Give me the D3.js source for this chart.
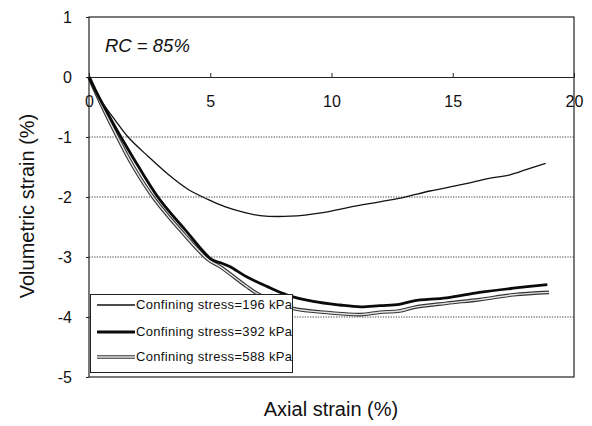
<!DOCTYPE html>
<html>
<head>
<meta charset="utf-8">
<script src="https://cdn.jsdelivr.net/npm/d3@7"></script>
<style>
  html, body { margin: 0; padding: 0; background: #fff; }
  svg { display: block; font-family: "Liberation Sans", Arial, sans-serif; }
</style>
</head>
<body>
<svg id="chart" width="592" height="426"></svg>
<script>
// Volumetric strain vs axial strain, RC = 85%, three confining stresses
const axial196 = [0, 0.37, 1.06, 1.61, 2.43, 3.26, 4.08, 4.9, 5.6, 6.43, 7.05, 8.3, 9.65, 10.76, 12.0, 12.95, 14.06, 15.4, 16.5, 17.36, 18.05, 18.83];
const vol196   = [0, -0.32, -0.71, -1.0, -1.32, -1.62, -1.87, -2.04, -2.16, -2.26, -2.31, -2.32, -2.26, -2.17, -2.08, -2.01, -1.9, -1.79, -1.69, -1.63, -1.54, -1.44];

const axial392 = [0, 0.1, 1.06, 1.33, 2.02, 2.91, 3.95, 5.05, 5.45, 5.8, 6.5, 7.33, 8.15, 9.25, 10.35, 11.2, 12.0, 12.8, 13.4, 14.75, 16.1, 17.5, 18.9];
const vol392   = [0, -0.09, -0.82, -1.01, -1.48, -2.04, -2.54, -3.04, -3.1, -3.16, -3.33, -3.49, -3.63, -3.74, -3.8, -3.83, -3.81, -3.79, -3.73, -3.68, -3.59, -3.52, -3.46];

const axial588 = [0, 0.5, 1.2, 1.81, 2.71, 3.74, 4.9, 5.4, 6.5, 6.9, 7.6, 8.43, 9.94, 11.2, 12.0, 12.8, 13.4, 14.75, 16.1, 17.5, 18.97];
const vol588   = [0, -0.45, -1.02, -1.48, -2.04, -2.54, -3.04, -3.16, -3.49, -3.6, -3.74, -3.86, -3.93, -3.96, -3.92, -3.9, -3.84, -3.77, -3.71, -3.63, -3.59];

const xTicks = [0, 5, 10, 15, 20];
const yTicks = [-5, -4, -3, -2, -1, 0, 1];
const gridTicks = [-4, -3, -2, -1];
const seriesNames = ["Confining stress=196 kPa", "Confining stress=392 kPa", "Confining stress=588 kPa"];

const svg = d3.select("#chart");
const x = d3.scaleLinear().domain([0, 20]).range([89, 574]);
const y = d3.scaleLinear().domain([-5, 1]).range([377, 17]);
const fmt = d => String(d);

// dotted horizontal gridlines
svg.append("g").selectAll("line").data(gridTicks).join("line")
  .attr("x1", x(0)).attr("x2", x(20))
  .attr("y1", d => y(d)).attr("y2", d => y(d))
  .attr("stroke", "#444").attr("stroke-width", 1)
  .attr("stroke-dasharray", "1.3,1.3");

// plot frame
svg.append("rect")
  .attr("x", x(0)).attr("y", y(1))
  .attr("width", x(20) - x(0)).attr("height", y(-5) - y(1))
  .attr("fill", "none").attr("stroke", "#222").attr("stroke-width", 1.2);

// y axis
const yAxis = svg.append("g").attr("transform", `translate(${x(0)},0)`)
  .call(d3.axisLeft(y).tickValues(yTicks).tickFormat(fmt).tickSize(3).tickSizeOuter(0).tickPadding(14));
yAxis.select(".domain").remove();
yAxis.selectAll("line").attr("stroke", "#222");
yAxis.selectAll("text").attr("font-size", 16).attr("fill", "#111")
  .attr("font-family", "'Liberation Sans', Arial, sans-serif");

// x axis along zero line, ticks pointing up, labels below
const xAxis = svg.append("g").attr("transform", `translate(0,${y(0)})`)
  .call(d3.axisBottom(x).tickValues(xTicks).tickFormat(fmt).tickSize(-4).tickSizeOuter(0).tickPadding(19));
xAxis.select(".domain").attr("stroke", "#222").attr("stroke-width", 1.2);
xAxis.selectAll("line").attr("stroke", "#222");
xAxis.selectAll("text").attr("font-size", 16).attr("fill", "#111")
  .attr("font-family", "'Liberation Sans', Arial, sans-serif");

// curves
const line = d3.line().x(d => x(d[0])).y(d => y(d[1])).curve(d3.curveCatmullRom.alpha(0.5));
const pts = (a, v) => a.map((d, i) => [d, v[i]]);

svg.append("path").datum(pts(axial196, vol196)).attr("d", line)
  .attr("fill", "none").attr("stroke", "#111").attr("stroke-width", 1.3);

svg.append("path").datum(pts(axial588, vol588)).attr("d", line)
  .attr("fill", "none").attr("stroke", "#333").attr("stroke-width", 3.6);
svg.append("path").datum(pts(axial588, vol588)).attr("d", line)
  .attr("fill", "none").attr("stroke", "#e4e4e4").attr("stroke-width", 1.4);

svg.append("path").datum(pts(axial392, vol392)).attr("d", line)
  .attr("fill", "none").attr("stroke", "#0a0a0a").attr("stroke-width", 2.8);

// annotation
svg.append("text").attr("x", 105).attr("y", 52)
  .attr("font-size", 18.5).attr("font-style", "italic").attr("fill", "#111")
  .text("RC = 85%");

// legend
const lg = svg.append("g");
lg.append("rect").attr("x", 90.5).attr("y", 294.5).attr("width", 202).attr("height", 78)
  .attr("fill", "#fff").attr("stroke", "#222").attr("stroke-width", 1);
const rows = [309, 336, 361];
const styles = [
  [{ c: "#111", w: 1.3 }],
  [{ c: "#0a0a0a", w: 2.8 }],
  [{ c: "#333", w: 3.6 }, { c: "#e4e4e4", w: 1.4 }]
];
seriesNames.forEach((name, i) => {
  const cy = rows[i] - 4;
  styles[i].forEach(s => {
    lg.append("line").attr("x1", 97).attr("x2", 135).attr("y1", cy).attr("y2", cy)
      .attr("stroke", s.c).attr("stroke-width", s.w);
  });
  lg.append("text").attr("x", 136).attr("y", rows[i])
    .attr("font-size", 13).attr("fill", "#111")
    .attr("textLength", 156).attr("lengthAdjust", "spacing")
    .text(name);
});

// axis titles
svg.append("text").attr("x", 331).attr("y", 416).attr("text-anchor", "middle")
  .attr("font-size", 20).attr("fill", "#111").text("Axial strain (%)");
svg.append("text").attr("transform", "translate(34,206) rotate(-90)").attr("text-anchor", "middle")
  .attr("font-size", 20).attr("fill", "#111").text("Volumetric strain (%)");
</script>
</body>
</html>
